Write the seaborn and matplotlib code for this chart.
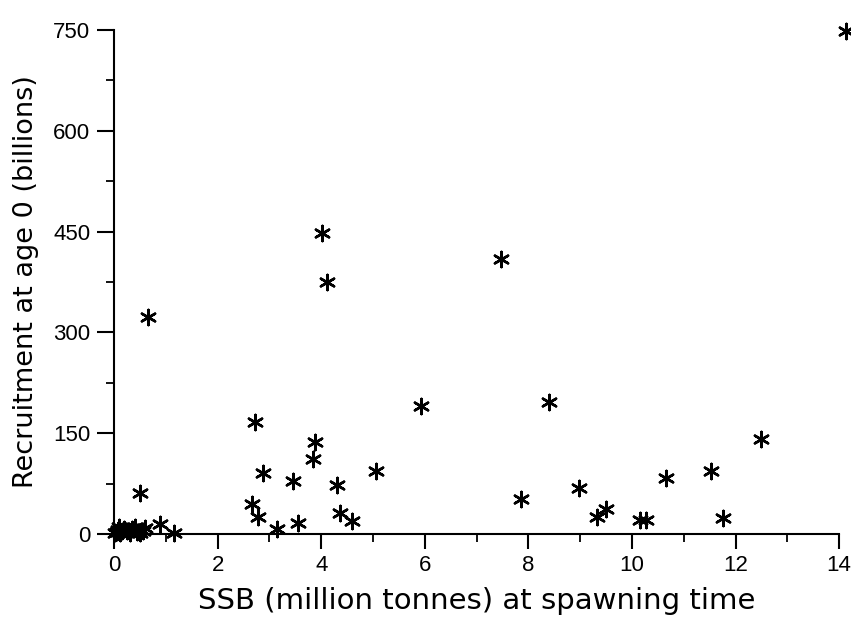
import pandas as pd
import seaborn as sns
import matplotlib.pyplot as plt
from matplotlib.ticker import MultipleLocator

# SSB (million tonnes) and recruitment at age 0 (billions)
ssb = [0.02, 0.05, 0.08, 0.10, 0.12, 0.15, 0.20, 0.25, 0.30, 0.35, 0.40, 0.45,
       0.50, 0.55, 0.50, 0.60, 0.66, 0.89, 1.16,
       2.66, 2.72, 2.78, 2.87, 3.14, 3.45, 3.55, 3.84, 3.88, 4.01, 4.11,
       4.30, 4.36, 4.59, 5.05, 5.92, 7.48, 7.85, 8.39, 8.97, 9.33, 9.49,
       10.16, 10.28, 10.66, 11.53, 11.76, 12.50, 14.13]
recruits = [1, 3, 6, 10, 2, 5, 8, 4, 2, 7, 10, 3,
            1, 5, 61, 9, 323, 15, 2,
            45, 166, 25, 91, 7, 79, 16, 111, 137, 448, 375,
            73, 31, 19, 93, 191, 409, 52, 197, 69, 25, 37,
            21, 21, 84, 93, 24, 142, 748]

df = pd.DataFrame({'ssb': ssb, 'recruits': recruits})

sns.set_style("ticks")
plt.rcParams['font.family'] = ['Liberation Sans', 'DejaVu Sans']
plt.rcParams['text.color'] = 'black'
plt.rcParams['axes.labelcolor'] = 'black'

fig = plt.figure(figsize=(8.51, 6.28), dpi=100)
ax = fig.add_axes([0.1340, 0.1497, 0.8520, 0.8025])

sns.scatterplot(
    data=df,
    x='ssb',
    y='recruits',
    marker=(6, 2, 0),
    s=120,
    color='black',
    linewidth=1.8,
    edgecolor='black',
    clip_on=False,
    ax=ax
)

ax.set_xlim(0, 14)
ax.set_ylim(0, 750)
ax.xaxis.set_major_locator(MultipleLocator(2))
ax.xaxis.set_minor_locator(MultipleLocator(1))
ax.yaxis.set_major_locator(MultipleLocator(150))
ax.yaxis.set_minor_locator(MultipleLocator(75))

sns.despine(ax=ax)
for side in ['left', 'bottom']:
    ax.spines[side].set_linewidth(1.5)
    ax.spines[side].set_color('black')

ax.tick_params(axis='x', which='major', length=11, width=1.5, pad=4)
ax.tick_params(axis='y', which='major', length=12, width=1.5, pad=5)
ax.tick_params(axis='both', which='major', labelsize=16,
               colors='black', labelcolor='black')
ax.tick_params(axis='both', which='minor', length=6, width=1.3,
               colors='black')

ax.set_xlabel('SSB (million tonnes) at spawning time', fontsize=21,
              family='DejaVu Sans', labelpad=8)
ax.set_ylabel('Recruitment at age 0 (billions)', fontsize=19.5,
              family='DejaVu Sans', labelpad=10)

plt.savefig('out.png', dpi=100)
